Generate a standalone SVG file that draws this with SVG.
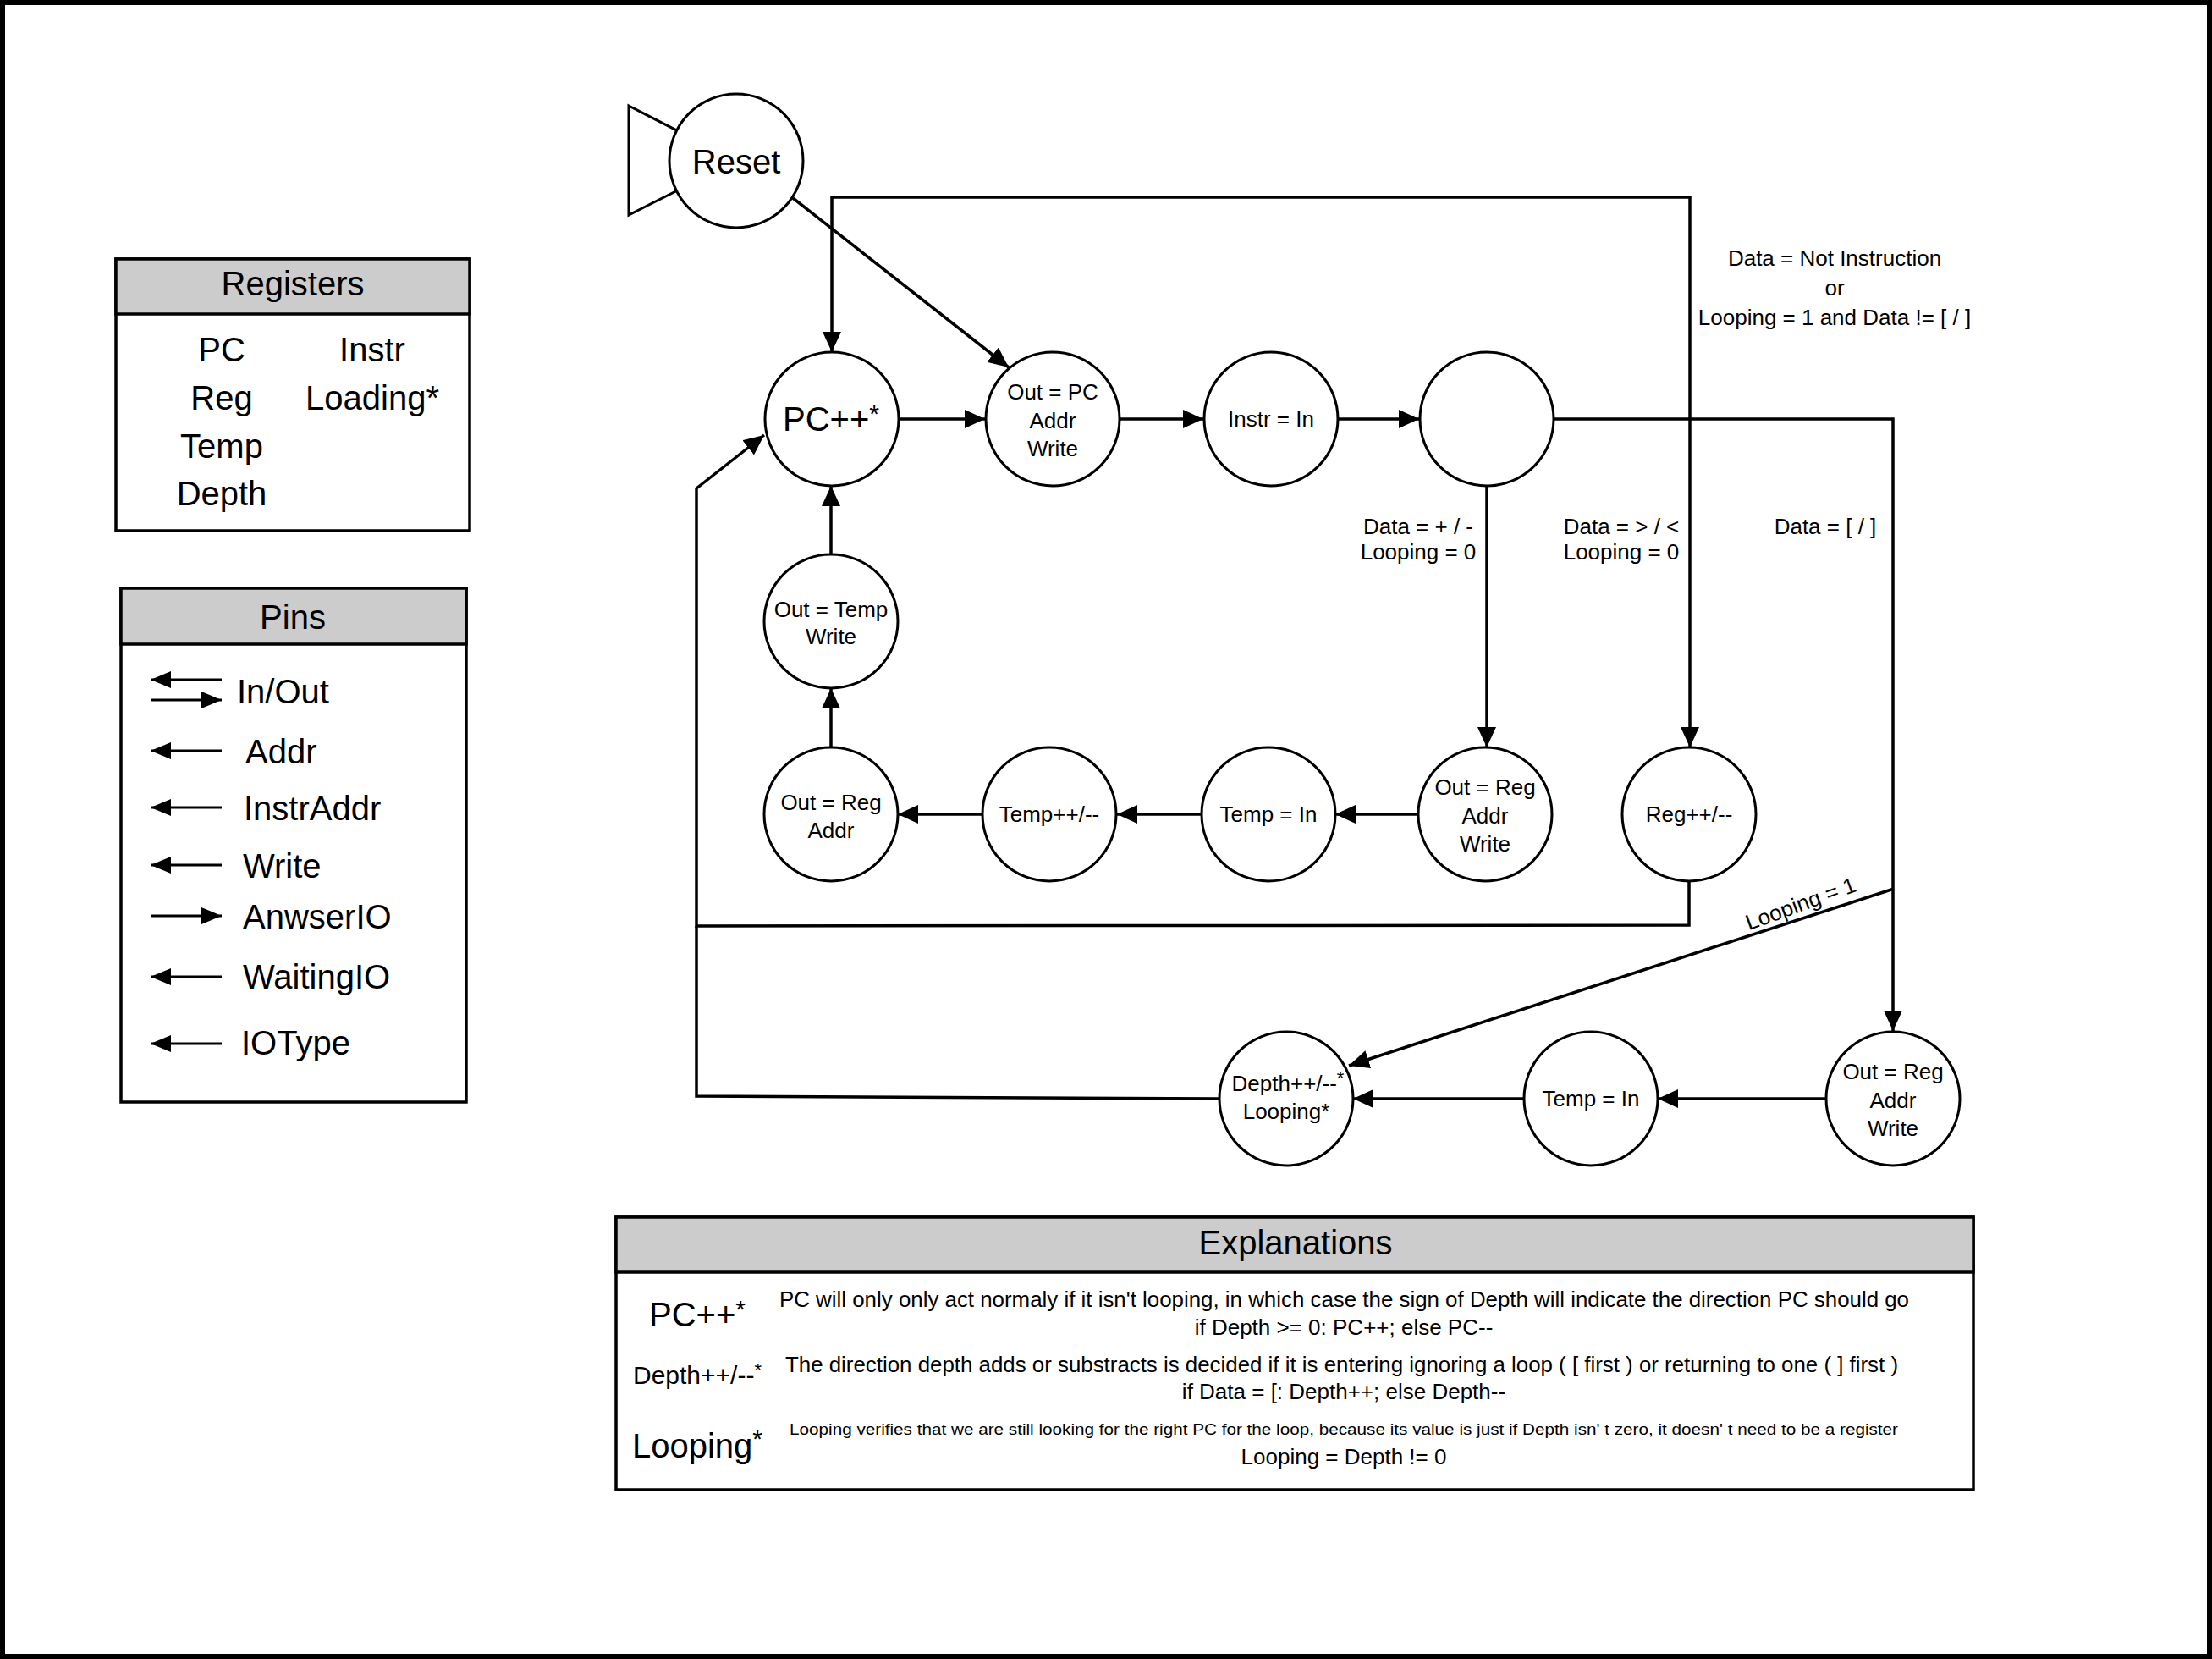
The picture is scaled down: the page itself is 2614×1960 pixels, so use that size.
<svg xmlns="http://www.w3.org/2000/svg" width="2614" height="1960" viewBox="0 0 2614 1960">
<defs>
<style>
text{font-family:"Liberation Sans",Arial,sans-serif;fill:#000}
.n{font-size:26px;text-anchor:middle}
.lbl{font-size:26px;text-anchor:middle}
.big{font-size:40px}
.mid{text-anchor:middle}
.st{fill:#fff;stroke:#000;stroke-width:3}
.c{fill:none;stroke:#000;stroke-width:3.5}
.p{fill:none;stroke:#000;stroke-width:3}
.box{fill:#fff;stroke:#000;stroke-width:3.5}
.hdr{fill:#cccccc;stroke:#000;stroke-width:3.5}
</style>
<marker id="ah" markerUnits="userSpaceOnUse" markerWidth="26" markerHeight="24" refX="24" refY="11" orient="auto"><path d="M0,0 L24,11 L0,22 Z" fill="#000"/></marker>
<marker id="ap" markerUnits="userSpaceOnUse" markerWidth="26" markerHeight="22" refX="24" refY="10" orient="auto"><path d="M0,0 L24,10 L0,20 Z" fill="#000"/></marker>
</defs>
<rect x="0" y="0" width="2614" height="1960" fill="#fff"/>
<rect x="3" y="3" width="2608" height="1954" fill="none" stroke="#000" stroke-width="6"/>

<g id="connectors">
<path class="c" d="M937,234 L1192,434" marker-end="url(#ah)"/>
<path class="c" d="M1063,495 L1164,495" marker-end="url(#ah)"/>
<path class="c" d="M1324,495 L1422,495" marker-end="url(#ah)"/>
<path class="c" d="M1581,495 L1677,495" marker-end="url(#ah)"/>
<path class="c" d="M1757,575 L1757,883" marker-end="url(#ah)"/>
<path class="c" d="M1836,495 L2237,495 L2237,1218" marker-end="url(#ah)"/>
<path class="c" d="M1997,495 L1997,233 L983,233 L983,416" marker-end="url(#ah)"/>
<path class="c" d="M1997,495 L1997,883" marker-end="url(#ah)"/>
<path class="c" d="M1676,962 L1578,962" marker-end="url(#ah)"/>
<path class="c" d="M1420,962 L1320,962" marker-end="url(#ah)"/>
<path class="c" d="M1161,962 L1061,962" marker-end="url(#ah)"/>
<path class="c" d="M982,883 L982,813" marker-end="url(#ah)"/>
<path class="c" d="M982,655 L982,574" marker-end="url(#ah)"/>
<path class="c" d="M1996,1041 L1996,1093 L823,1094 L823,577 L903,514" marker-end="url(#ah)"/>
<path class="c" d="M1441,1298 L823,1295 L823,1094"/>
<path class="c" d="M2158,1298 L1959,1298" marker-end="url(#ah)"/>
<path class="c" d="M1801,1298 L1599,1298" marker-end="url(#ah)"/>
<path class="c" d="M2238,1050 L1594,1259" marker-end="url(#ah)"/>
<text class="lbl" x="2168" y="314">Data = Not Instruction</text>
<text class="lbl" x="2168" y="349">or</text>
<text class="lbl" x="2168" y="384">Looping = 1 and Data != [ / ]</text>
<text class="lbl" x="1676" y="631">Data = + / -</text>
<text class="lbl" x="1676" y="661">Looping = 0</text>
<text class="lbl" x="1916" y="631">Data = &gt; / &lt;</text>
<text class="lbl" x="1916" y="661">Looping = 0</text>
<text class="lbl" x="2157" y="631">Data = [ / ]</text>
<text class="lbl" x="2131" y="1076" transform="rotate(-20 2131 1076)">Looping = 1</text>
</g>

<g id="reset">
<polygon class="st" points="743,125 870,190 743,254"/>
<circle class="st" cx="870" cy="190" r="79"/>
<text class="big mid" x="870" y="205">Reset</text>
</g>
<g id="pcpp">
<circle class="st" cx="983" cy="495" r="79"/>
<text class="big mid" x="982" y="509">PC++<tspan font-size="30" dy="-10">*</tspan></text>
</g>
<g id="outpc">
<circle class="st" cx="1244" cy="495" r="79"/>
<text class="n" x="1244" y="472">Out = PC</text>
<text class="n" x="1244" y="506">Addr</text>
<text class="n" x="1244" y="539">Write</text>
</g>
<g id="instrin">
<circle class="st" cx="1502" cy="495" r="79"/>
<text class="n" x="1502" y="504">Instr = In</text>
</g>
<g id="decision">
<circle class="st" cx="1757" cy="495" r="79"/>
</g>
<g id="outtemp">
<circle class="st" cx="982" cy="734" r="79"/>
<text class="n" x="982" y="729">Out = Temp</text>
<text class="n" x="982" y="761">Write</text>
</g>
<g id="outrega">
<circle class="st" cx="982" cy="962" r="79"/>
<text class="n" x="982" y="957">Out = Reg</text>
<text class="n" x="982" y="990">Addr</text>
</g>
<g id="temppp">
<circle class="st" cx="1240" cy="962" r="79"/>
<text class="n" x="1240" y="971">Temp++/--</text>
</g>
<g id="tempin">
<circle class="st" cx="1499" cy="962" r="79"/>
<text class="n" x="1499" y="971">Temp = In</text>
</g>
<g id="outregaw">
<circle class="st" cx="1755" cy="962" r="79"/>
<text class="n" x="1755" y="939">Out = Reg</text>
<text class="n" x="1755" y="973">Addr</text>
<text class="n" x="1755" y="1006">Write</text>
</g>
<g id="regpp">
<circle class="st" cx="1996" cy="962" r="79"/>
<text class="n" x="1996" y="971">Reg++/--</text>
</g>
<g id="depth">
<circle class="st" cx="1520" cy="1298" r="79"/>
<text class="n" x="1522" y="1289">Depth++/--<tspan font-size="22" dy="-8">*</tspan></text>
<text class="n" x="1520" y="1322">Looping*</text>
</g>
<g id="tempin2">
<circle class="st" cx="1880" cy="1298" r="79"/>
<text class="n" x="1880" y="1307">Temp = In</text>
</g>
<g id="outregaw2">
<circle class="st" cx="2237" cy="1298" r="79"/>
<text class="n" x="2237" y="1275">Out = Reg</text>
<text class="n" x="2237" y="1309">Addr</text>
<text class="n" x="2237" y="1342">Write</text>
</g>

<g id="registers">
<rect class="box" x="137" y="306" width="418" height="321"/>
<rect class="hdr" x="137" y="306" width="418" height="65"/>
<text class="big mid" x="346" y="349">Registers</text>
<text class="big mid" x="262" y="427">PC</text>
<text class="big mid" x="262" y="484">Reg</text>
<text class="big mid" x="262" y="541">Temp</text>
<text class="big mid" x="262" y="597">Depth</text>
<text class="big mid" x="440" y="427">Instr</text>
<text class="big mid" x="440" y="484">Loading*</text>
</g>

<g id="pins">
<rect class="box" x="143" y="695" width="408" height="607"/>
<rect class="hdr" x="143" y="695" width="408" height="66"/>
<text class="big mid" x="346" y="743">Pins</text>
<path class="p" d="M262,803 L178,803" marker-end="url(#ap)"/>
<path class="p" d="M178,827 L262,827" marker-end="url(#ap)"/>
<text class="big" x="280" y="831">In/Out</text>
<path class="p" d="M262,887 L178,887" marker-end="url(#ap)"/>
<text class="big" x="290" y="902">Addr</text>
<path class="p" d="M262,954 L178,954" marker-end="url(#ap)"/>
<text class="big" x="288" y="969">InstrAddr</text>
<path class="p" d="M262,1022 L178,1022" marker-end="url(#ap)"/>
<text class="big" x="287" y="1037">Write</text>
<path class="p" d="M178,1082 L262,1082" marker-end="url(#ap)"/>
<text class="big" x="287" y="1097">AnwserIO</text>
<path class="p" d="M262,1154 L178,1154" marker-end="url(#ap)"/>
<text class="big" x="287" y="1168">WaitingIO</text>
<path class="p" d="M262,1233 L178,1233" marker-end="url(#ap)"/>
<text class="big" x="285" y="1246">IOType</text>
</g>

<g id="explanations">
<rect class="box" x="728" y="1438" width="1604" height="322"/>
<rect class="hdr" x="728" y="1438" width="1604" height="65"/>
<text class="big mid" x="1531" y="1482">Explanations</text>
<text class="big mid" x="824" y="1567">PC++<tspan font-size="30" dy="-10">*</tspan></text>
<text font-size="25" x="921" y="1544" textLength="1335" lengthAdjust="spacingAndGlyphs">PC will only only act normaly if it isn't looping, in which case the sign of Depth will indicate the direction PC should go</text>
<text class="lbl" x="1588" y="1577">if Depth &gt;= 0: PC++; else PC--</text>
<text class="mid" font-size="30" x="824" y="1635">Depth++/--<tspan font-size="22" dy="-9">*</tspan></text>
<text font-size="25" x="928" y="1621" textLength="1315" lengthAdjust="spacingAndGlyphs">The direction depth adds or substracts is decided if it is entering ignoring a loop ( [ first ) or returning to one ( ] first )</text>
<text class="lbl" x="1588" y="1653">if Data = [: Depth++; else Depth--</text>
<text class="big mid" x="824" y="1722">Looping<tspan font-size="30" dy="-12">*</tspan></text>
<text font-size="19" x="933" y="1695" textLength="1310" lengthAdjust="spacingAndGlyphs">Looping verifies that we are still looking for the right PC for the loop, because its value is just if Depth isn' t zero, it doesn' t need to be a register</text>
<text class="lbl" x="1588" y="1730">Looping = Depth != 0</text>
</g>
</svg>
